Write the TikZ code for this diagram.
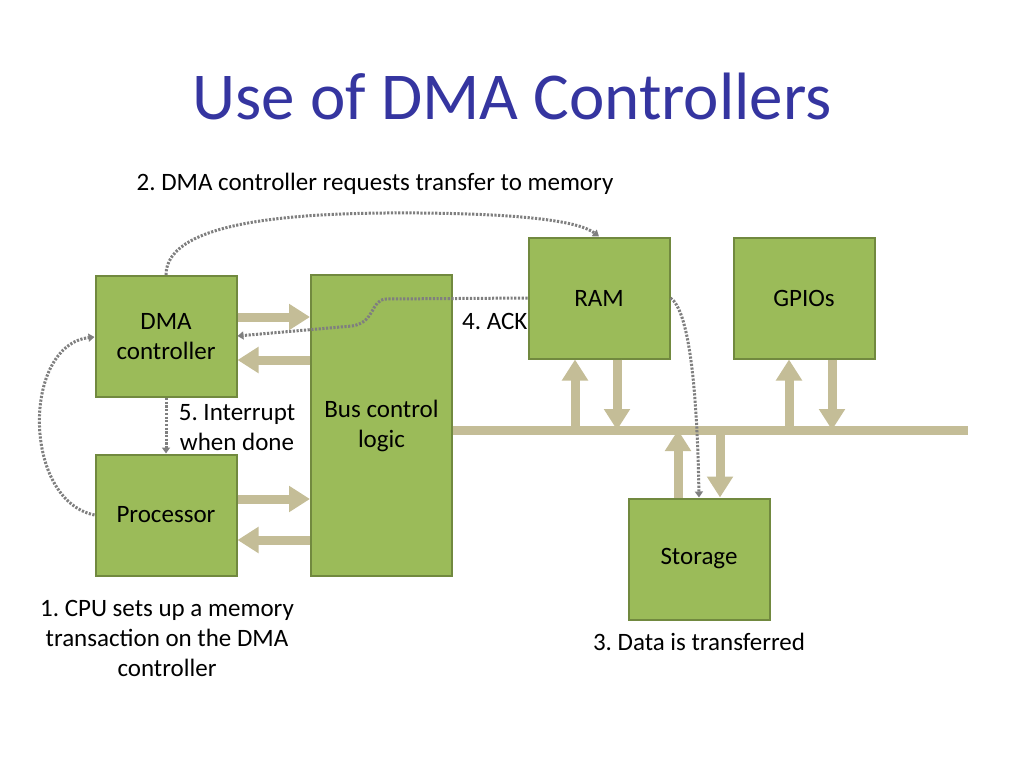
\documentclass[tikz,border=0pt]{standalone}
\usepackage{fontspec}
\setmainfont{Carlito}
\usetikzlibrary{arrows.meta}
\definecolor{boxfill}{HTML}{9BBB59}
\definecolor{boxline}{HTML}{71893F}
\definecolor{flow}{HTML}{C4BD97}
\definecolor{dotc}{HTML}{7F7F7F}
\definecolor{titlec}{HTML}{3535A0}
\newcommand\txtsize{\fontsize{25}{30}\selectfont}
\frenchspacing
\begin{document}
\begin{tikzpicture}[x=1pt,y=-1pt,
  unit/.style={draw=boxline, fill=boxfill, line width=2pt, minimum width=141pt,
    minimum height=121pt, inner sep=0pt, align=center, font=\txtsize},
  lbl/.style={inner sep=0pt, align=center, font=\txtsize},
  barrow/.style={draw=flow, line width=9pt, -{Triangle[width=25pt,length=21pt]}},
  busline/.style={draw=flow, line width=9pt},
  dotarrow/.style={draw=dotc, line width=3pt, dash pattern=on 2.2pt off 1.5pt,
    -{Triangle[width=8pt,length=6pt]}}]
\useasboundingbox (0,0) rectangle (1024,768);

% title
\node[font=\fontsize{67}{70}\selectfont, text=titlec, inner sep=0pt] (title) at (512,96) {Use of DMA Controllers};

% labels
\node[lbl] (l2) at (375,184) {2. DMA controller requests transfer to memory};
\node[lbl, anchor=west] (l4) at (462,321) {4. ACK};
\node[lbl] (l5) at (237,428) {5. Interrupt\\when done};
\node[lbl] (l1) at (167,638) {1. CPU sets up a memory\\transaction on the DMA\\controller};
\node[lbl] (l3) at (699,642) {3. Data is transferred};

% boxes
\node[unit] (dma) at (166,336.5) {DMA\\controller};
\node[unit] (proc) at (166,515) {Processor};
\node[unit, minimum height=301pt] (bus) at (381.5,425.5) {Bus control\\logic};
\node[unit] (ram) at (599,298) {RAM};
\node[unit] (gpio) at (804,298) {GPIOs};
\node[unit] (stor) at (699,559) {Storage};

% bus line
\coordinate (bl) at (455,430);
\coordinate (br) at (968,430);
\draw[busline] (bus.east |- bl) -- (br);

% horizontal block arrows
\draw[barrow] (dma.east |- 0,317) -- (bus.west |- 0,317);
\draw[barrow] (bus.west |- 0,360) -- (dma.east |- 0,360);
\draw[barrow] (proc.east |- 0,499) -- (bus.west |- 0,499);
\draw[barrow] (bus.west |- 0,540) -- (proc.east |- 0,540);

% vertical block arrows
\coordinate (ramup) at ([xshift=-24pt]ram.south);
\coordinate (ramdn) at ([xshift=18pt]ram.south);
\coordinate (gpup) at ([xshift=-15pt]gpio.south);
\coordinate (gpdn) at ([xshift=28pt]gpio.south);
\coordinate (stup) at ([xshift=-21pt]stor.north);
\coordinate (stdn) at ([xshift=21pt]stor.north);
\draw[barrow] (ramup |- bl) -- (ramup);
\draw[barrow] (ramdn) -- (ramdn |- bl);
\draw[barrow] (gpup |- bl) -- (gpup);
\draw[barrow] (gpdn) -- (gpdn |- bl);
\draw[barrow] (stup) -- (stup |- bl);
\draw[barrow] (stdn |- bl) -- (stdn);

% dotted connectors
\draw[dotarrow] (dma.north) .. controls (166,220) and (300,212) .. (420,213)
  .. controls (530,214) and (580,222) .. (ram.north);
\draw[dotarrow] (ram.west |- 0,298) -- (386,299) .. controls (370,300) and (376,322) .. (352,326)
  -- (dma.east |- 0,336);
\draw[dotarrow] (dma.south) -- (proc.north);
\draw[dotarrow] (proc.west) .. controls (22,500) and (22,345) .. (dma.west |- 0,337);
\draw[dotarrow] (ram.east |- 0,298) .. controls (688,310) and (697,380) .. (stor.north);
\end{tikzpicture}
\end{document}
